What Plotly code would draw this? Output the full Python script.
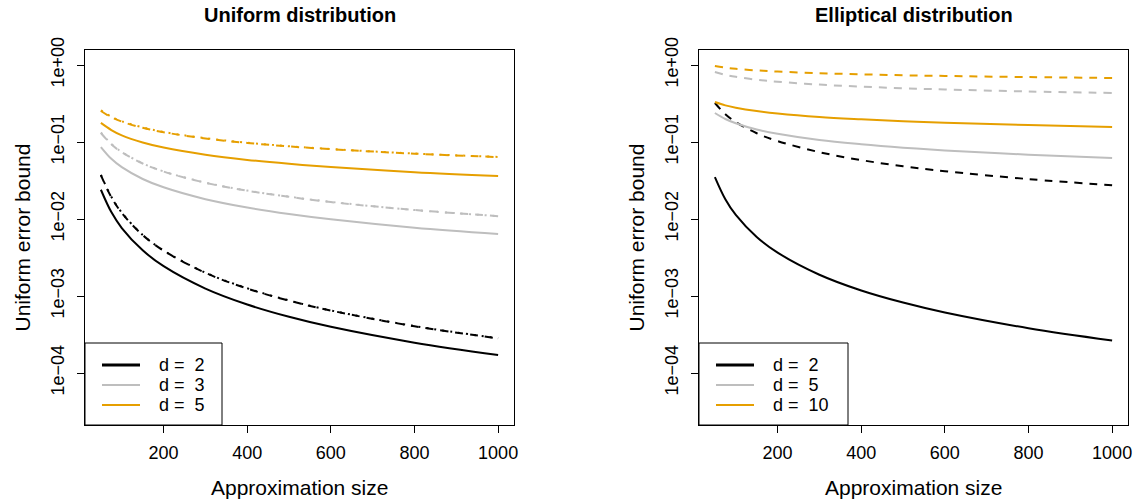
import plotly.graph_objects as go

# ---------------- data ----------------
n = [50, 75, 100, 150, 200, 300, 400, 500, 600, 800, 1000]

# Uniform distribution (left panel), d = 2, 3, 5
unif_labels = ["d =  2", "d =  3", "d =  5"]
unif_solid_d2 = [0.0240, 0.0123, 0.00764, 0.00392, 0.00244, 0.00125, 0.000776, 0.000537, 0.000398, 0.000248, 0.000171]
unif_dash_d2 = [0.0372, 0.0192, 0.0120, 0.00619, 0.00388, 0.00200, 0.00125, 0.00087, 0.000647, 0.000405, 0.000282]
unif_dot_d2 = [0.0375, 0.0194, 0.0121, 0.00622, 0.00390, 0.00201, 0.00126, 0.000875, 0.00065, 0.000407, 0.000283]
unif_solid_d3 = [0.0861, 0.0605, 0.0471, 0.0331, 0.0258, 0.0181, 0.0141, 0.0116, 0.0099, 0.0077, 0.0064]
unif_dash_d3 = [0.131, 0.0935, 0.0736, 0.0526, 0.0414, 0.0296, 0.0233, 0.0194, 0.0166, 0.0131, 0.0109]
unif_dot_d3 = [0.133, 0.0945, 0.0740, 0.0528, 0.0415, 0.0297, 0.0234, 0.0195, 0.0167, 0.0131, 0.0109]
unif_solid_d5 = [0.177, 0.143, 0.122, 0.0986, 0.0847, 0.0684, 0.0586, 0.0521, 0.0473, 0.0406, 0.0361]
unif_dash_d5 = [0.253, 0.210, 0.184, 0.153, 0.134, 0.111, 0.0973, 0.0877, 0.0807, 0.0706, 0.0638]
unif_dot_d5 = [0.258, 0.213, 0.186, 0.155, 0.135, 0.112, 0.0980, 0.0882, 0.0810, 0.0708, 0.0640]

# Elliptical distribution (right panel), d = 2, 5, 10
ell_labels = ["d =  2", "d =  5", "d =  10"]
ell_solid_d2 = [0.0351, 0.0181, 0.0113, 0.00585, 0.00366, 0.00189, 0.00118, 0.000822, 0.000611, 0.000382, 0.000265]
ell_dash_d2 = [0.321, 0.230, 0.182, 0.130, 0.103, 0.0738, 0.0582, 0.0485, 0.0418, 0.0330, 0.0275]
ell_solid_d5 = [0.238, 0.199, 0.175, 0.145, 0.128, 0.106, 0.0935, 0.0845, 0.0778, 0.0684, 0.0619]
ell_dash_d5 = [0.811, 0.745, 0.702, 0.644, 0.607, 0.557, 0.524, 0.500, 0.481, 0.453, 0.433]
ell_solid_d10 = [0.331, 0.299, 0.279, 0.252, 0.234, 0.211, 0.197, 0.186, 0.178, 0.166, 0.157]
ell_dash_d10 = [0.971, 0.925, 0.893, 0.851, 0.822, 0.783, 0.757, 0.736, 0.721, 0.697, 0.678]

x_ticks = [200, 400, 600, 800, 1000]
y_ticks = [1e-4, 1e-3, 1e-2, 1e-1, 1e0]
y_ticktext = ["1e\u221204", "1e\u221203", "1e\u221202", "1e\u221201", "1e+00"]

# ---------------- style ----------------
W, H = 1139, 503
FONT = "Liberation Sans, Arial, Helvetica, sans-serif"
COLORS = ["#000000", "#BEBEBE", "#E69F00"]
DASH = "8px,7px"
DOT = "2px,6px"
LW = 2

fig = go.Figure()


def add(y, color, dash, xa, ya):
    fig.add_trace(go.Scatter(x=n, y=y, mode="lines", xaxis=xa, yaxis=ya,
                             line=dict(color=color, width=LW, dash=dash, shape="spline"),
                             showlegend=False, hoverinfo="skip"))


left_sets = [(unif_solid_d2, unif_dash_d2, unif_dot_d2),
             (unif_solid_d3, unif_dash_d3, unif_dot_d3),
             (unif_solid_d5, unif_dash_d5, unif_dot_d5)]
for c, (s, d, o) in zip(COLORS, left_sets):
    add(s, c, "solid", "x", "y")
    add(d, c, DASH, "x", "y")
    add(o, c, DOT, "x", "y")

right_sets = [(ell_solid_d2, ell_dash_d2), (ell_solid_d5, ell_dash_d5), (ell_solid_d10, ell_dash_d10)]
for c, (s, d) in zip(COLORS, right_sets):
    add(s, c, "solid", "x2", "y2")
    add(d, c, DASH, "x2", "y2")

# panel boxes in pixels
L1, R1 = 85, 514
L2, R2 = 699, 1128
TOP, BOT = 50, 425


def px(v):
    return v / W


def py(v):
    return 1 - v / H


axis_common = dict(showline=True, mirror=True, linecolor="black", linewidth=1,
                   ticks="outside", ticklen=7, tickwidth=1, tickcolor="black",
                   showgrid=False, zeroline=False, automargin=False,
                   tickfont=dict(family=FONT, size=18, color="black"))

xcommon = dict(axis_common, range=[12, 1038], tickvals=x_ticks, ticklabelstandoff=4)
ycommon = dict(axis_common, type="log", range=[-4.675, 0.195], tickvals=y_ticks,
               ticktext=y_ticktext, tickangle=-90, ticklabelstandoff=6)

fig.update_layout(
    template="none",
    width=W, height=H,
    margin=dict(l=0, r=0, t=0, b=0, pad=0, autoexpand=False),
    paper_bgcolor="white", plot_bgcolor="white",
    showlegend=False,
    xaxis=dict(xcommon, domain=[px(L1), px(R1)], anchor="y"),
    yaxis=dict(ycommon, domain=[py(BOT), py(TOP)], anchor="x"),
    xaxis2=dict(xcommon, domain=[px(L2), px(R2)], anchor="y2"),
    yaxis2=dict(ycommon, domain=[py(BOT), py(TOP)], anchor="x2"),
)

annotations = []
shapes = []
for (L, R, title, labels, legR) in [(L1, R1, "Uniform distribution", unif_labels, 222),
                                    (L2, R2, "Elliptical distribution", ell_labels, L2 + 149)]:
    cx = (L + R) / 2
    annotations.append(dict(x=px(cx), y=py(15), xref="paper", yref="paper", text="<b>" + title + "</b>",
                            showarrow=False, xanchor="center", yanchor="middle",
                            font=dict(family=FONT, size=20, color="black")))
    annotations.append(dict(x=px(cx), y=py(487), xref="paper", yref="paper", text="Approximation size",
                            showarrow=False, xanchor="center", yanchor="middle",
                            font=dict(family=FONT, size=21, color="black")))
    annotations.append(dict(x=px(L - 63), y=py((TOP + BOT) / 2), xref="paper", yref="paper",
                            text="Uniform error bound", textangle=-90,
                            showarrow=False, xanchor="center", yanchor="middle",
                            font=dict(family=FONT, size=21, color="black")))
    # legend
    shapes.append(dict(type="rect", xref="paper", yref="paper", x0=px(L), x1=px(legR),
                       y0=py(BOT), y1=py(343), line=dict(color="black", width=1), fillcolor="white",
                       layer="above"))
    for i, (lab, c) in enumerate(zip(labels, COLORS)):
        yy = 365 + 20 * i
        shapes.append(dict(type="line", xref="paper", yref="paper", x0=px(L + 17), x1=px(L + 55),
                           y0=py(yy), y1=py(yy), line=dict(color=c, width=3 if i == 0 else 2),
                           layer="above"))
        annotations.append(dict(x=px(L + 72), y=py(yy), xref="paper", yref="paper", text=lab,
                                showarrow=False, xanchor="left", yanchor="middle",
                                font=dict(family=FONT, size=18, color="black")))

fig.update_layout(annotations=annotations, shapes=shapes)
fig.write_html("out.html", config={"displayModeBar": False, "staticPlot": True},
               post_script="document.body.style.margin='0';document.body.style.overflow='hidden';")
